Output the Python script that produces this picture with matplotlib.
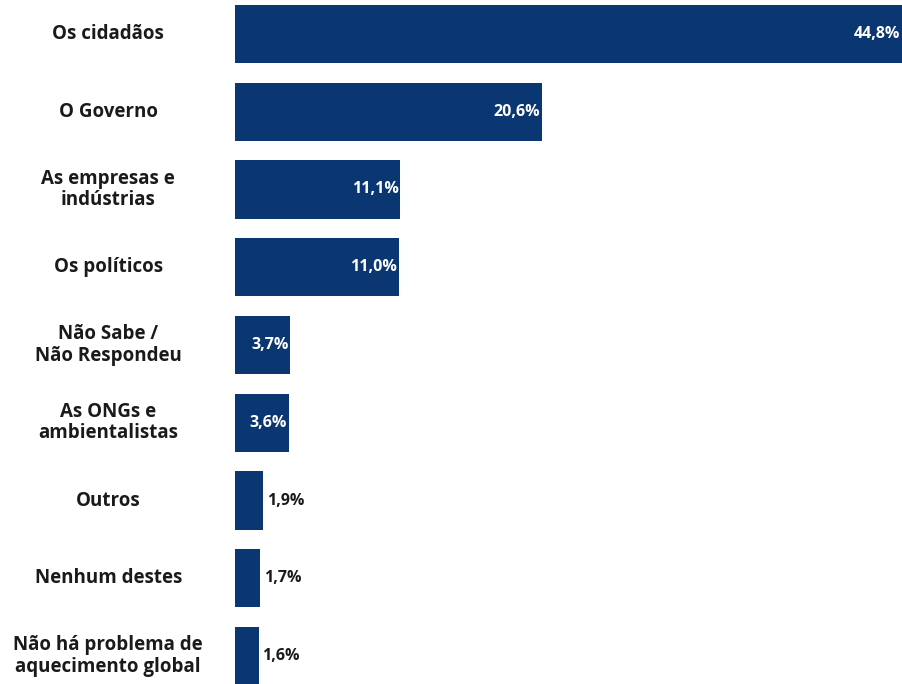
import matplotlib.pyplot as plt
from matplotlib.transforms import blended_transform_factory

# data
categories = [
    "Os cidadãos",
    "O Governo",
    "As empresas e\nindústrias",
    "Os políticos",
    "Não Sabe /\nNão Respondeu",
    "As ONGs e\nambientalistas",
    "Outros",
    "Nenhum destes",
    "Não há problema de\naquecimento global",
]
values = [44.8, 20.6, 11.1, 11.0, 3.7, 3.6, 1.9, 1.7, 1.6]
value_labels = ["44,8%", "20,6%", "11,1%", "11,0%", "3,7%", "3,6%", "1,9%", "1,7%", "1,6%"]

plt.rcParams['font.family'] = ['Open Sans', 'DejaVu Sans']

bar_color = "#0a3772"
text_color = "#1a1a1a"

fig = plt.figure(figsize=(9.02, 6.84), dpi=100)
ax = fig.add_axes([0.2605, 0.0, 0.7395, 1.0])

ypos = list(range(len(categories)))
ax.barh(ypos, values, height=0.75, color=bar_color)
ax.set_xlim(0, 44.8)
ax.set_ylim(8.36, -0.437)
ax.axis("off")

# category labels, centred in the left margin
trans = blended_transform_factory(fig.transFigure, ax.transData)
for y, cat in zip(ypos, categories):
    ax.text(0.12, y, cat, transform=trans, ha="center", va="center",
            fontsize=13.5, fontweight="bold", color=text_color,
            linespacing=1.1)

# value labels
for y, v, lab in zip(ypos, values, value_labels):
    if v >= 3:
        ax.text(v - 0.1, y, lab, ha="right", va="center", fontsize=11.5,
                fontweight="bold", color="white")
    else:
        ax.text(v + 0.25, y, lab, ha="left", va="center", fontsize=11.5,
                fontweight="bold", color=text_color)

fig.savefig("out.png", dpi=100, facecolor="white")
